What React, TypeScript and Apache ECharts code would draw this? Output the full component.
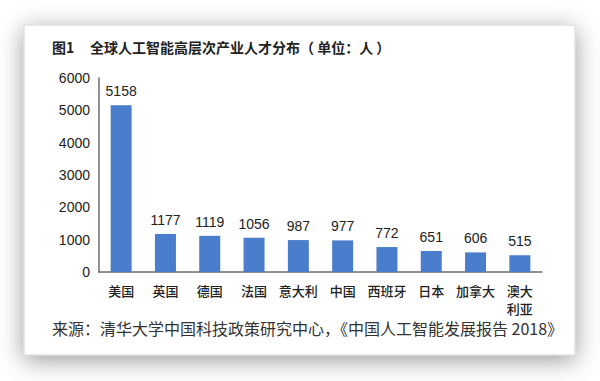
import React, { useEffect, useRef } from "react";
import * as echarts from "echarts";

const categories = ["美国", "英国", "德国", "法国", "意大利", "中国", "西班牙", "日本", "加拿大", "澳大\n利亚"];
const values = [5158, 1177, 1119, 1056, 987, 977, 772, 651, 606, 515];
const yTicks = [0, 1000, 2000, 3000, 4000, 5000, 6000];
const titleLabel = "图1";
const titleText = "全球人工智能高层次产业人才分布（ 单位：人 ）";
const sourceText = "来源：清华大学中国科技政策研究中心，《中国人工智能发展报告 2018》";

const CJK = "'Noto Sans CJK SC', 'Noto Sans', sans-serif";
const LATIN = "'Liberation Sans', Arial, 'Noto Sans CJK SC', sans-serif";

export default function App() {
  const ref = useRef<HTMLDivElement>(null);
  useEffect(() => {
    if (!ref.current) return;
    const chart = echarts.init(ref.current, null, { renderer: "svg" });
    chart.setOption({
      animation: false,
      backgroundColor: "#ffffff",
      graphic: [
        {
          type: "rect",
          z: -10,
          shape: { x: 24, y: 25, width: 551, height: 330 },
          style: {
            fill: "#ffffff",
            stroke: "#d4d4d4",
            lineWidth: 1,
            shadowBlur: 24,
            shadowColor: "rgba(0,0,0,0.4)",
            shadowOffsetX: 0,
            shadowOffsetY: 5,
          },
        },
        {
          type: "text",
          x: 52,
          y: 47,
          style: {
            text: titleLabel,
            font: `bold 14px ${CJK}`,
            fill: "#222",
            verticalAlign: "middle",
          },
        },
        {
          type: "text",
          x: 90,
          y: 47,
          style: {
            text: titleText,
            font: `bold 14px ${CJK}`,
            fill: "#222",
            verticalAlign: "middle",
          },
        },
        {
          type: "text",
          x: 52,
          y: 328,
          style: {
            text: sourceText,
            font: `16px ${CJK}`,
            fill: "#333",
            verticalAlign: "middle",
          },
        },
      ],
      grid: { left: 99, right: 58, top: 78, bottom: 109, containLabel: false },
      xAxis: {
        type: "category",
        data: categories,
        axisLine: { show: true, lineStyle: { color: "#6e6e6e", width: 1.5 } },
        axisTick: { show: false },
        axisLabel: {
          interval: 0,
          margin: 9,
          fontSize: 13,
          lineHeight: 18,
          fontWeight: 500,
          color: "#222",
          fontFamily: CJK,
        },
      },
      yAxis: {
        type: "value",
        min: 0,
        max: 6000,
        interval: 1000,
        axisLine: { show: true, lineStyle: { color: "#6e6e6e", width: 1.5 } },
        axisTick: { show: false },
        splitLine: { show: false },
        axisLabel: {
          margin: 9,
          fontSize: 14,
          color: "#222",
          fontFamily: LATIN,
          formatter: (v: number) => (yTicks.includes(v) ? String(v) : ""),
        },
      },
      series: [
        {
          type: "bar",
          data: values,
          barWidth: 21,
          itemStyle: { color: "#4a7dcc" },
          label: {
            show: true,
            position: "top",
            distance: 7,
            fontSize: 14,
            color: "#222",
            fontFamily: LATIN,
          },
        },
      ],
    });
    return () => chart.dispose();
  }, []);
  return (
    <div
      ref={ref}
      style={{ position: "fixed", left: 0, top: 0, width: 600, height: 381 }}
    />
  );
}
